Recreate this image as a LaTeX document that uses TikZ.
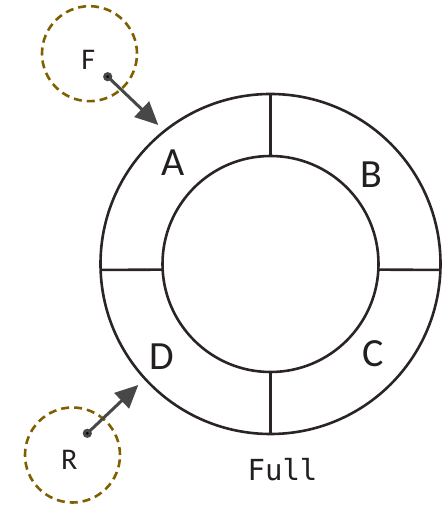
\documentclass[tikz,border=0pt]{standalone}
\usepackage{fontspec}
\setmainfont{Carlito}
\newfontfamily\codefont{DejaVu Sans Mono}
\usetikzlibrary{arrows.meta,calc}
\definecolor{ringline}{HTML}{2B2424}
\definecolor{ptrring}{HTML}{7F6000}
\definecolor{ptrarrow}{HTML}{474747}
\definecolor{labeltext}{HTML}{231F20}
\tikzset{
  ring/.style={circle, draw=ringline, line width=2.6pt, inner sep=0pt, outer sep=0pt},
  divider/.style={draw=ringline, line width=2.6pt},
  slotlabel/.style={text=labeltext, font=\fontsize{40}{40}\selectfont, inner sep=0pt},
  ptrcircle/.style={circle, draw=ptrring, line width=2.6pt, dash pattern=on 8pt off 5pt,
    minimum size=95pt, inner sep=0pt},
  ptrname/.style={text=labeltext, font=\fontsize{30}{30}\selectfont, inner sep=0pt},
  ptrarrow/.style={draw=ptrarrow, line width=3pt, -{Triangle[length=23pt,width=21pt]}},
  statelabel/.style={text=labeltext, font=\codefont\fontsize{29}{29}\selectfont, inner sep=0pt}
}
\begin{document}
\begin{tikzpicture}[x=1pt,y=1pt]
  \useasboundingbox (0,0) rectangle (444,505);
  % ring buffer: outer and inner boundaries
  \coordinate (O) at (270.5,241);
  \node[ring, minimum size=340pt] (outer) at (O) {};
  \node[ring, minimum size=216pt] (inner) at (O) {};
  % four slot dividers
  \draw[divider] (outer.north) -- (inner.north);
  \draw[divider] (outer.south) -- (inner.south);
  \draw[divider] (outer.182.3) -- (inner.183.6);
  \draw[divider] (outer.-2.3) -- (inner.-3.6);
  % slot names
  \node[slotlabel] (A) at (173,342) {A};
  \node[slotlabel] (B) at (371.7,330) {B};
  \node[slotlabel] (C) at (372.7,151) {C};
  \node[slotlabel] (D) at (161.7,148.3) {D};
  % front and rear pointers
  \node[ptrcircle] (F) at (89.5,451.3) {};
  \node[ptrname] (Ftext) at (88.3,445) {F};
  \node[ptrcircle] (R) at (72.5,50) {};
  \node[ptrname] (Rtext) at (69.3,45) {R};
  \coordinate (Fdot) at (107.7,428.3);
  \coordinate (Ftip) at (158.3,380);
  \coordinate (Rdot) at (87.3,71.7);
  \coordinate (Rtip) at (138.3,120);
  \draw[ptrarrow] (Fdot) -- (Ftip);
  \draw[ptrarrow] (Rdot) -- (Rtip);
  \fill[ptrarrow] (Fdot) circle (3pt);
  \fill[ptrarrow] (Rdot) circle (3pt);
  % buffer state
  \node[statelabel] (state) at (282.5,35) {Full};
\end{tikzpicture}
\end{document}
